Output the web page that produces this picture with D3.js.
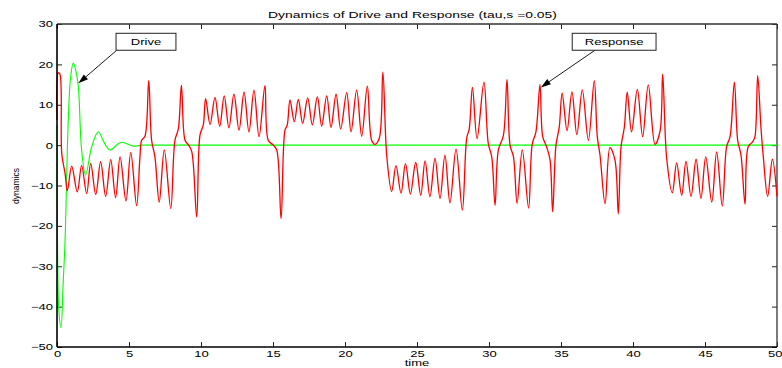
<!DOCTYPE html>
<html>
<head>
<meta charset="utf-8">
<script src="https://cdn.jsdelivr.net/npm/d3@7"></script>
<style>
  body { margin: 0; background: #fff; }
  text { font-family: "Liberation Sans", Arial, sans-serif; }
</style>
</head>
<body>
<svg id="chart"></svg>
<script>
const timeTicks = [0, 5, 10, 15, 20, 25, 30, 35, 40, 45, 50];
const dynTicks = [-50, -40, -30, -20, -10, 0, 10, 20, 30];

// drive signal (green)
const driveT = [0, 0.04, 0.13, 0.28, 0.43, 0.56, 0.78, 0.95, 1.13, 1.3, 1.48, 1.71, 1.99, 2.41, 2.87, 3.25, 3.68, 4.44, 5.3, 5.9, 6.5, 50];
const driveY = [5, -25, -41, -45.2, -34, -23.6, 6, 17, 20.3, 18.5, 14.5, -1.2, -7.4, -0.4, 3.3, 0.8, -1.2, 0.7, -0.25, 0, 0, 0];

// response signal (red), peaks and troughs
const respT = [
  0, 0.09, 0.2, 0.33, 0.56, 0.72, 1.02, 1.41, 1.71, 2.06,
  2.34, 2.69, 3.03, 3.38, 3.73, 4.07, 4.38, 4.79, 5.12, 5.53,
  5.76, 5.88, 6.11, 6.37, 6.57, 6.8, 7.1, 7.45, 7.9, 8.19,
  8.43, 8.64, 8.89, 9.1, 9.35, 9.7, 9.93, 10.16, 10.32, 10.63,
  10.97, 11.3, 11.61, 11.94, 12.29, 12.64, 12.99, 13.33, 13.68, 14.03,
  14.44, 14.67, 15.02, 15.26, 15.56, 15.83, 15.99, 16.18, 16.48, 16.76,
  17.06, 17.41, 17.73, 18.08, 18.38, 18.73, 19.03, 19.38, 19.7, 20.12,
  20.42, 20.81, 21.16, 21.55, 21.85, 22.08, 22.38, 22.63, 22.9, 23.24,
  23.54, 23.89, 24.2, 24.54, 24.91, 25.26, 25.56, 25.9, 26.25, 26.6,
  26.94, 27.29, 27.71, 28.15, 28.45, 28.63, 28.85, 29.17, 29.65, 29.95,
  30.19, 30.42, 30.65, 31.0, 31.25, 31.46, 31.7, 31.95, 32.31, 32.75,
  33.0, 33.26, 33.54, 33.73, 34.0, 34.24, 34.42, 34.65, 34.88, 35.08,
  35.42, 35.76, 36.1, 36.48, 36.9, 37.31, 37.52, 37.71, 38.06, 38.4,
  38.75, 38.98, 39.17, 39.4, 39.6, 39.9, 40.3, 40.67, 41.06, 41.53,
  41.88, 42.06, 42.34, 42.73, 43.03, 43.38, 43.68, 44.03, 44.38, 44.72,
  45.05, 45.47, 45.81, 46.2, 46.5, 46.74, 47.04, 47.27, 47.5, 47.78,
  48.0, 48.31, 48.47, 48.66, 48.89, 49.05, 49.35, 49.68, 50
];
const respY = [
  6.2, 17.9, 17.6, -2.1, -7.0, -11.3, -5.2, -11.6, -5.0, -12.0,
  -4.5, -12.2, -4.1, -12.7, -3.6, -13.0, -2.9, -13.8, -1.8, -15.0,
  -2.9, 1.2, 2.2, 16.0, 1.2, -2.9, -14.1, -1.2, -15.7, 1.2,
  4.1, 14.8, 1.2, 0.2, -1.5, -17.8, 2.5, 5.0, 11.5, 5.1,
  11.8, 4.7, 12.2, 4.3, 12.6, 3.7, 13.1, 3.3, 13.6, 2.1,
  14.7, 1.2, 0, -1.2, -18.2, 3.7, 5.0, 11.2, 5.8, 11.3,
  5.4, 11.7, 5.0, 12.0, 4.7, 12.2, 4.4, 12.6, 4.0, 13.0,
  3.3, 13.6, 2.2, 14.6, 1.2, 0.2, 1.7, 18.1, -2.7, -11.5,
  -5.1, -11.9, -4.6, -12.1, -4.3, -12.4, -3.9, -12.8, -3.3, -13.2,
  -2.5, -14.3, -1.0, -16.1, 1.7, 4.1, 14.3, 1.6, 15.6, 0.4,
  -2.9, -14.9, -1.2, 2.4, 16.2, 0, -2.9, -14.4, -1.2, -15.6,
  0.2, 3.3, 15.0, 2.1, -0.4, -3.7, -16.5, 0, 4.5, 12.9,
  3.6, 13.2, 2.6, 13.7, 1.2, 16.0, 2.1, -2.5, -14.5, -0.6,
  -3.7, -17.0, -0.4, 4.5, 13.1, 3.3, 13.8, 2.1, 14.9, 0.2,
  3.5, 17.6, -3.3, -11.8, -4.4, -12.4, -4.0, -12.7, -3.5, -13.2,
  -2.9, -14.1, -1.7, -15.1, -0.4, 2.1, 15.6, 1.2, -2.5, -14.6,
  -0.4, 0.8, 2.1, 17.2, 4.1, -2.9, -12.7, -3.5, -12.7
];

// annotation boxes and arrows, in data units
const notes = [
  { label: 'Drive', x0: 4.1, x1: 8.26, y0: 27.7, y1: 23.5, tail: [4.15, 23.5], tip: [1.48, 15.3] },
  { label: 'Response', x0: 35.78, x1: 41.6, y0: 27.7, y1: 23.5, tail: [37.36, 23.5], tip: [33.6, 14.3] }
];

const W = 782, H = 368;
const svg = d3.select('#chart').attr('width', W).attr('height', H);

const x = d3.scaleLinear().domain([0, 50]).range([57, 777]);
const y = d3.scaleLinear().domain([-50, 30]).range([347, 24]);

const stretch = 'scale(1.45,1)';

// axes with inward ticks on all four sides
const bottom = svg.append('g').attr('transform', 'translate(0,347)')
  .call(d3.axisBottom(x).tickValues(timeTicks).tickSize(-5).tickSizeOuter(0));
bottom.selectAll('text').attr('y', 10).attr('dy', null)
  .style('font-size', '9px').attr('transform', stretch);
// last label sits at the very edge of the picture
bottom.selectAll('text').filter(d => d === 50)
  .attr('text-anchor', 'end').attr('x', (W - x(50)) / 1.45);

const left = svg.append('g').attr('transform', 'translate(57,0)')
  .call(d3.axisLeft(y).tickValues(dynTicks).tickSize(-5).tickSizeOuter(0));
left.selectAll('text').attr('x', 0)
  .style('font-size', '9px').attr('transform', 'translate(-4,0) ' + stretch);

svg.append('g').attr('transform', 'translate(0,24)')
  .call(d3.axisTop(x).tickValues(timeTicks).tickSize(-5).tickSizeOuter(0).tickFormat(''));
svg.append('g').attr('transform', 'translate(777,0)')
  .call(d3.axisRight(y).tickValues(dynTicks).tickSize(-5).tickSizeOuter(0).tickFormat(''));

svg.selectAll('.domain').remove();
svg.selectAll('.tick line').attr('stroke', '#222').attr('stroke-width', 1);

// frame
svg.append('line').attr('x1', x(0)).attr('x2', x(50)).attr('y1', y(30)).attr('y2', y(30))
  .attr('stroke', '#333').attr('stroke-width', 1.3);
svg.append('line').attr('x1', x(50)).attr('x2', x(50)).attr('y1', y(30)).attr('y2', y(-50))
  .attr('stroke', '#333').attr('stroke-width', 1.3);

const line = d3.line().x(d => x(d[0])).y(d => y(d[1])).curve(d3.curveCatmullRom);

svg.append('path')
  .attr('d', line(driveT.map((t, i) => [t, driveY[i]])))
  .attr('fill', 'none')
  .attr('stroke', '#00ff00')
  .attr('stroke-width', 1.1);

svg.append('path')
  .attr('d', line(respT.map((t, i) => [t, respY[i]])))
  .attr('fill', 'none')
  .attr('stroke', '#ff0000')
  .attr('stroke-width', 1.3);

svg.append('line').attr('x1', x(0)).attr('x2', x(0)).attr('y1', y(30)).attr('y2', y(-50))
  .attr('stroke', '#000').attr('stroke-width', 1.6);
svg.append('line').attr('x1', x(0)).attr('x2', x(50)).attr('y1', y(-50)).attr('y2', y(-50))
  .attr('stroke', '#000').attr('stroke-width', 1.6);

// annotations
for (let i = 0; i < notes.length; i++) {
  const n = notes[i];
  const tx = x(n.tail[0]), ty = y(n.tail[1]);
  const hx = x(n.tip[0]), hy = y(n.tip[1]);
  const ang = Math.atan2(hy - ty, hx - tx);
  const len = 10, wid = 3.2;
  const bx = hx - Math.cos(ang) * len, by = hy - Math.sin(ang) * len;
  svg.append('line')
    .attr('x1', tx).attr('y1', ty).attr('x2', bx).attr('y2', by)
    .attr('stroke', '#000').attr('stroke-width', 0.9);
  svg.append('polygon')
    .attr('points', [
      [hx, hy],
      [bx + Math.sin(ang) * wid, by - Math.cos(ang) * wid],
      [bx - Math.sin(ang) * wid, by + Math.cos(ang) * wid]
    ].map(p => p.join(',')).join(' '))
    .attr('fill', '#000');
  svg.append('rect')
    .attr('x', x(n.x0)).attr('y', y(n.y0))
    .attr('width', x(n.x1) - x(n.x0)).attr('height', y(n.y1) - y(n.y0))
    .attr('fill', '#fff').attr('stroke', '#222').attr('stroke-width', 1);
  svg.append('text')
    .attr('transform', `translate(${(x(n.x0) + x(n.x1)) / 2},${(y(n.y0) + y(n.y1)) / 2 + 3}) ${stretch}`)
    .attr('text-anchor', 'middle')
    .style('font-size', '9px')
    .text(n.label);
}

// titles
svg.append('text')
  .attr('x', 268).attr('y', 17.5)
  .attr('textLength', 289).attr('lengthAdjust', 'spacingAndGlyphs')
  .style('font-size', '9px')
  .text('Dynamics of Drive and Response (tau,s =0.05)');

svg.append('text')
  .attr('transform', `translate(${(x(0) + x(50)) / 2},366) ${stretch}`)
  .attr('text-anchor', 'middle')
  .style('font-size', '9px')
  .text('time');

svg.append('text')
  .attr('transform', 'translate(19,186) rotate(-90)')
  .attr('text-anchor', 'middle')
  .style('font-size', '8.5px')
  .text('dynamics');
</script>
</body>
</html>
